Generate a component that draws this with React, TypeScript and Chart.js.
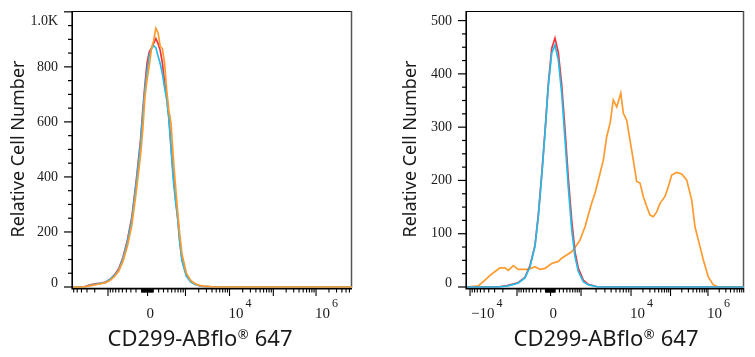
import React, { useEffect, useRef } from 'react';
import { Chart, registerables } from 'chart.js';

Chart.register(...registerables);

// ---------- colours ----------
const ORANGE = '#FF9A2E';
const RED = '#F2343A';
const CYAN = '#22BCEB';

// ---------- left panel data (x in display channels 0..256, y in cell counts) ----------
const LEFT_CH = [0, 10, 14, 18, 22, 26, 30, 34, 38, 42, 46, 50, 54, 58, 62, 64, 66, 68, 70, 72, 74, 76, 78, 80, 82, 84, 86, 88, 90, 92, 94, 96, 98, 100, 104, 108, 112, 116, 120, 130, 256];
const LEFT_CYAN = [0, 0, 4, 8, 11, 14, 17, 27, 42, 62, 105, 165, 245, 375, 520, 625, 720, 785, 840, 866, 877, 870, 840, 812, 775, 725, 680, 610, 500, 390, 315, 250, 160, 95, 40, 19, 9, 5, 2, 0, 0];
const LEFT_RED = [0, 0, 6, 10, 12, 14, 18, 28, 44, 66, 110, 172, 255, 385, 535, 640, 735, 815, 855, 868, 885, 903, 885, 860, 815, 745, 690, 615, 510, 410, 325, 255, 165, 100, 42, 20, 10, 5, 2, 0, 0];
const LEFT_ORANGE = [0, 0, 3, 6, 9, 12, 16, 24, 38, 58, 95, 150, 225, 345, 480, 570, 690, 755, 805, 865, 895, 940, 925, 875, 866, 815, 715, 640, 595, 470, 370, 275, 190, 120, 50, 24, 12, 6, 3, 0, 0];

// ---------- right panel data ----------
const RIGHT_CH_A = [0, 28.7, 37.9, 47.1, 53.6, 58.2, 62.8, 65.9, 69.0, 72.1, 75.1, 78.3, 81.3, 84.4, 87.5, 90.6, 93.6, 96.8, 99.8, 102.9, 107.5, 112.1, 121.3, 256];
const RIGHT_CYAN = [0, 0, 2, 7, 17, 38, 76, 132, 207, 289, 376, 439, 454, 426, 364, 276, 188, 107, 57, 29, 10, 4, 0, 0];
const RIGHT_RED = [0, 0, 3, 8, 18, 40, 78, 135, 210, 292, 380, 448, 467, 440, 380, 295, 205, 124, 66, 35, 13, 5, 0, 0];
const RIGHT_CH_B = [0, 10.4, 16.6, 21.3, 25.9, 30.5, 35.1, 38.2, 42.8, 47.4, 52.0, 56.7, 62.8, 67.5, 72.1, 78.3, 84.4, 87.5, 92.1, 96.8, 101.4, 104.4, 109.1, 112.1, 115.2, 118.3, 122.9, 126.0, 129.1, 132.2, 135.2, 138.4, 142.1, 144.5, 147.6, 150.6, 153.7, 156.8, 159.9, 162.9, 166.1, 169.1, 172.2, 175.3, 178.4, 183.0, 186.0, 189.2, 193.8, 198.4, 203.0, 207.7, 210.7, 213.8, 218.4, 223.0, 227.6, 232.3, 256];
const RIGHT_ORANGE = [0, 2, 13, 22, 29, 36, 36, 31, 40, 33, 33, 33, 38, 33, 35, 44, 48, 54, 60, 66, 79, 88, 113, 135, 157, 176, 213, 238, 282, 307, 351, 338, 364, 326, 313, 276, 238, 198, 195, 170, 151, 135, 132, 141, 157, 170, 188, 210, 215, 212, 201, 163, 113, 88, 51, 19, 4, 0, 0];

// ---------- axis calibration (biexponential display) ----------
const LEFT_DECADE_VALUES = [-1e4, -1e3, 0, 1e3, 1e4, 1e5, 1e6, 1e7];
const LEFT_DECADE_CH = [-8.3, 32.1, 68.4, 103.2, 143.6, 183.8, 223.0, 262.4];
const RIGHT_DECADE_VALUES = [-1e5, -1e4, -1e3, 0, 1e3, 1e4, 1e5, 1e6, 1e7];
const RIGHT_DECADE_CH = [-33.7, 2.8, 46.2, 77.2, 105.4, 151.6, 188.1, 222.7, 257.3];

const LEFT_X_LABEL_VALUES = [0, 1e4, 1e6];
const LEFT_X_LABELS = [['0', ''], ['10', '4'], ['10', '6']];
const RIGHT_X_LABEL_VALUES = [-1e4, 0, 1e4, 1e6];
const RIGHT_X_LABELS = [['\u221210', '4'], ['0', ''], ['10', '4'], ['10', '6']];

const LEFT_Y_TICKS = [0, 200, 400, 600, 800, 1000];
const LEFT_Y_LABELS = ['0', '200', '400', '600', '800', '1.0K'];
const RIGHT_Y_TICKS = [0, 100, 200, 300, 400, 500];
const RIGHT_Y_LABELS = ['0', '100', '200', '300', '400', '500'];

const X_TITLE_MAIN = 'CD299-ABflo';
const X_TITLE_MARK = '\u00AE';
const X_TITLE_TAIL = ' 647';
const Y_TITLE = 'Relative Cell Number';

type PanelCfg = {
  canvasLeft: number;
  width: number;
  height: number;
  padding: { left: number; right: number; top: number; bottom: number };
  yMax: number;
  yMinor: number;
  yTicks: number[];
  yLabels: string[];
  decadeValues: number[];
  decadeCh: number[];
  xLabelValues: number[];
  xLabels: string[][];
  yTitleX: number;
  xTitleCX: number;
  series: { xs: number[]; ys: number[]; color: string }[];
};

const LIN_C = 400;

function makeChOf(values: number[], chs: number[]) {
  const look = (v: number) => {
    for (let i = 0; i < values.length; i++) {
      if (Math.abs(values[i] - v) <= Math.abs(v) * 1e-9) return chs[i];
    }
    return NaN;
  };
  return (v: number) => {
    const c0 = look(0);
    if (v === 0) return c0;
    const s = v > 0 ? 1 : -1;
    const a = Math.abs(v);
    if (a < 1000) {
      const edge = look(s * 1000);
      const span = Math.abs(edge - c0);
      return c0 + s * span * Math.asinh(a / LIN_C) / Math.asinh(1000 / LIN_C);
    }
    const lg = Math.log10(a);
    const n = Math.floor(lg + 1e-9);
    const f = Math.max(0, lg - n);
    const p1 = look(s * Math.pow(10, n));
    if (f < 1e-9) return p1;
    const p2 = look(s * Math.pow(10, n + 1));
    return p1 + f * (p2 - p1);
  };
}

function buildXTicks() {
  const out: { v: number; major: boolean }[] = [{ v: 0, major: true }];
  for (const s of [-1, 1]) {
    for (let k = 1; k <= 9; k++) {
      out.push({ v: s * k * 10, major: false });
      out.push({ v: s * k * 100, major: false });
    }
    for (let n = 3; n <= 6; n++) {
      for (let k = 1; k <= 9; k++) out.push({ v: s * k * Math.pow(10, n), major: k === 1 });
    }
  }
  return out;
}

const SERIF = '"Liberation Serif", "DejaVu Serif", serif';
const SANS = '"Noto Sans", "Open Sans", sans-serif';
const TEXT = '#1a1a1a';

function axesPlugin(p: PanelCfg) {
  const chOf = makeChOf(p.decadeValues, p.decadeCh);
  return {
    id: 'flowAxes',
    beforeDatasetsDraw(chart: any) {
      const ctx: CanvasRenderingContext2D = chart.ctx;
      const { left, right, top, bottom } = chart.chartArea;
      const xs = chart.scales.x;
      const ys = chart.scales.y;
      ctx.save();
      // frame top / right
      ctx.strokeStyle = '#000';
      ctx.lineWidth = 1;
      ctx.beginPath();
      ctx.moveTo(left, top + 0.5);
      ctx.lineTo(right, top + 0.5);
      ctx.stroke();
      ctx.strokeStyle = '#555';
      ctx.lineWidth = 1.5;
      ctx.beginPath();
      ctx.moveTo(right - 0.5, top);
      ctx.lineTo(right - 0.5, bottom + 1);
      ctx.stroke();
      // main axes
      ctx.strokeStyle = '#000';
      ctx.lineWidth = 1.6;
      ctx.beginPath();
      ctx.moveTo(left - 0.8, top);
      ctx.lineTo(left - 0.8, bottom + 1.6);
      ctx.lineTo(right, bottom + 1.6);
      ctx.stroke();

      // y ticks
      ctx.lineWidth = 1.2;
      for (let v = 0; v <= p.yMax + 1e-6; v += p.yMinor) {
        const y = ys.getPixelForValue(v);
        const major = p.yTicks.indexOf(v) >= 0;
        ctx.beginPath();
        ctx.moveTo(left - (major ? 9 : 5), y);
        ctx.lineTo(left, y);
        ctx.stroke();
      }
      ctx.fillStyle = TEXT;
      ctx.font = `14px ${SERIF}`;
      ctx.textAlign = 'right';
      ctx.textBaseline = 'middle';
      p.yTicks.forEach((v, i) => {
        const y = ys.getPixelForValue(v);
        const ly = Math.min(Math.max(y, top + 10), bottom - 4);
        ctx.fillText(p.yLabels[i], left - 15, ly);
      });

      // x ticks
      const ticks = buildXTicks();
      ctx.lineWidth = 1.1;
      for (const t of ticks) {
        const c = chOf(t.v);
        if (!isFinite(c) || c < xs.min || c > xs.max) continue;
        const x = xs.getPixelForValue(c);
        ctx.beginPath();
        ctx.moveTo(x, bottom + 1);
        ctx.lineTo(x, bottom + (t.major ? 9 : 5.5));
        ctx.stroke();
      }
      // x labels
      ctx.textAlign = 'left';
      ctx.textBaseline = 'alphabetic';
      p.xLabelValues.forEach((v, i) => {
        const x = xs.getPixelForValue(chOf(v)) - 1;
        const [base, exp] = p.xLabels[i];
        ctx.font = `15px ${SERIF}`;
        let bx = x;
        if (base.startsWith('\u2212')) bx = x + 2;
        ctx.fillText(base, bx, bottom + 31);
        if (exp) {
          const w = ctx.measureText(base).width;
          ctx.font = `12px ${SERIF}`;
          ctx.fillText(exp, bx + w + 2, bottom + 20);
        }
      });

      // y title
      ctx.save();
      ctx.translate(p.yTitleX, (top + bottom) / 2);
      ctx.rotate(-Math.PI / 2);
      ctx.font = `18px ${SANS}`;
      ctx.textAlign = 'center';
      ctx.textBaseline = 'middle';
      ctx.fillStyle = TEXT;
      ctx.fillText(Y_TITLE, 0, 0);
      ctx.restore();

      // x title
      ctx.font = `22px ${SANS}`;
      const w1 = ctx.measureText(X_TITLE_MAIN).width;
      const w3 = ctx.measureText(X_TITLE_TAIL).width;
      ctx.font = `13px ${SANS}`;
      const w2 = ctx.measureText(X_TITLE_MARK).width;
      const total = w1 + w2 + 1 + w3;
      let tx = p.xTitleCX - total / 2;
      const base = 346;
      ctx.textAlign = 'left';
      ctx.textBaseline = 'alphabetic';
      ctx.font = `22px ${SANS}`;
      ctx.fillText(X_TITLE_MAIN, tx, base);
      tx += w1 + 0.5;
      ctx.font = `13px ${SANS}`;
      ctx.fillText(X_TITLE_MARK, tx, base - 7);
      tx += w2 + 0.5;
      ctx.font = `22px ${SANS}`;
      ctx.fillText(X_TITLE_TAIL, tx, base);
      ctx.restore();
    },
  };
}

const LEFT_CFG: PanelCfg = {
  canvasLeft: 0,
  width: 378,
  height: 357,
  padding: { left: 73, right: 26, top: 11, bottom: 70 },
  yMax: 1003,
  yMinor: 50,
  yTicks: LEFT_Y_TICKS,
  yLabels: LEFT_Y_LABELS,
  decadeValues: LEFT_DECADE_VALUES,
  decadeCh: LEFT_DECADE_CH,
  xLabelValues: LEFT_X_LABEL_VALUES,
  xLabels: LEFT_X_LABELS,
  yTitleX: 19,
  xTitleCX: 200,
  series: [
    { xs: LEFT_CH, ys: LEFT_ORANGE, color: ORANGE },
    { xs: LEFT_CH, ys: LEFT_CYAN, color: CYAN },
    { xs: LEFT_CH, ys: LEFT_RED, color: RED },
  ],
};

const RIGHT_CFG: PanelCfg = {
  canvasLeft: 378,
  width: 377,
  height: 357,
  padding: { left: 89, right: 11, top: 11, bottom: 70 },
  yMax: 518,
  yMinor: 25,
  yTicks: RIGHT_Y_TICKS,
  yLabels: RIGHT_Y_LABELS,
  decadeValues: RIGHT_DECADE_VALUES,
  decadeCh: RIGHT_DECADE_CH,
  xLabelValues: RIGHT_X_LABEL_VALUES,
  xLabels: RIGHT_X_LABELS,
  yTitleX: 33,
  xTitleCX: 228,
  series: [
    { xs: RIGHT_CH_A, ys: RIGHT_CYAN, color: CYAN },
    { xs: RIGHT_CH_A, ys: RIGHT_RED, color: RED },
    { xs: RIGHT_CH_B, ys: RIGHT_ORANGE, color: ORANGE },
  ],
};

function FlowPanel({ cfg }: { cfg: PanelCfg }) {
  const ref = useRef<HTMLCanvasElement>(null);
  useEffect(() => {
    const canvas = ref.current;
    if (!canvas) return;
    const chart = new Chart(canvas, {
      type: 'line',
      data: {
        datasets: cfg.series.map((s) => ({
          data: s.xs.map((x, i) => ({ x, y: s.ys[i] })),
          borderColor: s.color,
          backgroundColor: s.color,
          borderWidth: 1.7,
          pointRadius: 0,
          fill: false,
          tension: 0,
          clip: 4,
        })),
      },
      options: {
        animation: false,
        responsive: false,
        maintainAspectRatio: false,
        devicePixelRatio: 1,
        layout: { padding: cfg.padding },
        plugins: { legend: { display: false }, tooltip: { enabled: false } },
        events: [],
        scales: {
          x: { type: 'linear', min: 0, max: 256, display: false },
          y: { type: 'linear', min: 0, max: cfg.yMax, display: false },
        },
      },
      plugins: [axesPlugin(cfg)],
    } as any);
    return () => chart.destroy();
  }, [cfg]);
  return (
    <canvas
      ref={ref}
      width={cfg.width}
      height={cfg.height}
      style={{ position: 'absolute', left: cfg.canvasLeft, top: 0, width: cfg.width, height: cfg.height }}
    />
  );
}

export default function App() {
  return (
    <div style={{ position: 'fixed', left: 0, top: 0, width: 755, height: 357, background: '#fff', overflow: 'hidden' }}>
      <FlowPanel cfg={LEFT_CFG} />
      <FlowPanel cfg={RIGHT_CFG} />
    </div>
  );
}
